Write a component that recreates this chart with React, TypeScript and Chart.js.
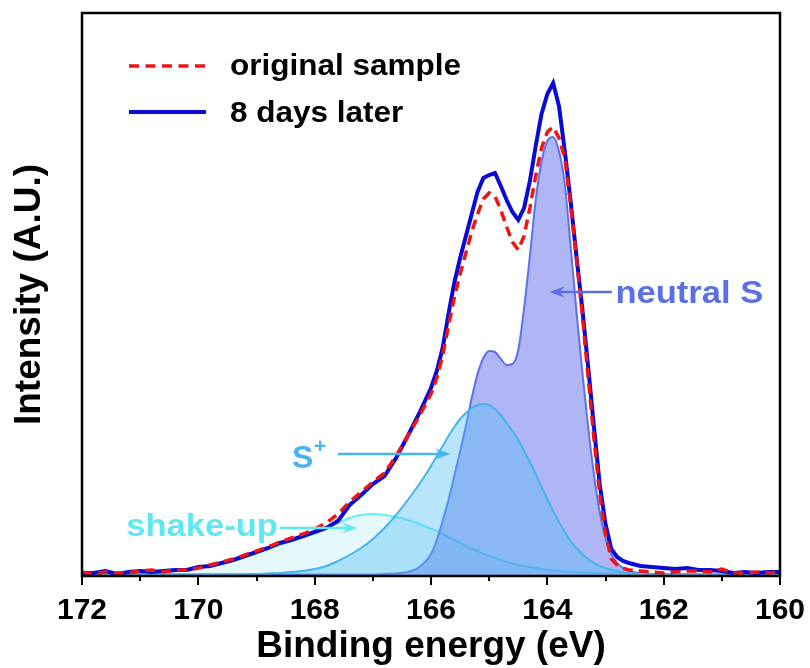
import React, { useEffect, useRef } from 'react';
import { Chart, registerables } from 'chart.js';

Chart.register(...registerables);

// ---------- data ----------
const energy = [
  172.0, 171.8, 171.6, 171.4, 171.2, 171.0, 170.8, 170.6, 170.4, 170.2,
  170.0, 169.8, 169.6, 169.4, 169.2, 169.0, 168.8, 168.6, 168.4, 168.2,
  168.0, 167.8, 167.6, 167.4, 167.2, 167.0, 166.8, 166.6, 166.4, 166.2,
  166.0, 165.9, 165.8, 165.7, 165.6, 165.5, 165.4, 165.3, 165.2, 165.1,
  165.0, 164.9, 164.8, 164.7, 164.6, 164.5, 164.4, 164.3, 164.2, 164.1,
  164.0, 163.9, 163.8, 163.7, 163.6, 163.5, 163.4, 163.3, 163.2, 163.1,
  163.0, 162.9, 162.8, 162.7, 162.6,
  162.4, 162.2, 162.0, 161.8, 161.6, 161.4, 161.2, 161.0, 160.8, 160.6, 160.4, 160.2, 160.0,
];

const eightDaysLater = [
  3, 3, 5, 2, 4, 5, 4, 5, 6, 6,
  9, 10, 13, 16, 20, 24, 28, 33, 36, 40,
  44, 48, 55, 71, 81, 92, 100, 118, 140, 163,
  188, 205, 228, 262, 293, 318, 340, 362, 384, 398,
  401, 403, 390, 376, 364, 356, 368, 395, 430, 462,
  482, 493, 470, 425, 375, 320, 268, 210, 150, 92,
  52, 27, 19, 15, 13,
  10, 9, 8, 7, 8, 6, 6, 5, 3, 4, 3, 4, 4,
];

const originalSample = [
  4, 2, 4, 3, 3, 5, 6, 4, 6, 6,
  8, 11, 14, 17, 21, 25, 29, 34, 38, 42,
  47, 53, 62, 74, 84, 94, 103, 120, 140, 160,
  182, 198, 220, 250, 278, 302, 323, 344, 362, 377,
  383, 380, 366, 349, 334, 326, 340, 368, 400, 428,
  444, 449, 438, 418, 372, 318, 262, 200, 138, 82,
  42, 17, 11, 8, 6,
  5, 4, 3, 4, 5, 5, 4, 7, 3, 3, 4, 3, 4,
];

const neutralS = [
  1.5, 1.5, 1.5, 1.5, 1.5, 1.5, 1.5, 1.5, 1.5, 1.5,
  1.5, 1.5, 1.5, 1.5, 1.5, 1.5, 1.5, 1.5, 1.5, 1.5,
  1.5, 1.5, 1.5, 1.5, 1.5, 1.5, 2, 2.5, 4, 9,
  22, 36, 55, 76, 100, 124, 150, 178, 202, 218,
  225, 224, 217, 211, 212, 226, 268, 320, 376, 414,
  435, 439, 425, 392, 330, 265, 205, 150, 102, 64,
  38, 22, 13, 8, 5,
  3, 2, 1.5, 1.5, 1.5, 1.5, 1.5, 1.5, 1.5, 1.5, 1.5, 1.5, 1.5,
];

const sPlus = [
  1.5, 1.5, 1.5, 1.5, 1.5, 1.5, 1.5, 1.5, 1.5, 1.5,
  1.5, 1.5, 1.5, 1.5, 1.8, 2, 2.5, 3, 4, 5,
  7, 10, 15, 21, 28, 37, 48, 61, 76, 92,
  110, 120, 130, 140, 149, 157, 163, 168, 171, 172,
  171, 167, 161, 153, 145, 136, 125, 114, 102, 89,
  77, 65, 54, 44, 35, 28, 22, 17, 13, 10,
  8, 6, 5, 4, 3,
  2.5, 2, 1.8, 1.5, 1.5, 1.5, 1.5, 1.5, 1.5, 1.5, 1.5, 1.5, 1.5,
];

const shakeUp = [
  2, 2, 3, 2, 3, 4, 4, 4, 5, 6,
  8, 10, 12, 15, 19, 23, 27, 31, 35, 39,
  43, 48, 53, 58, 61, 62, 61, 59, 56, 52,
  47, 45, 42, 39, 36, 33, 30, 27, 25, 22,
  20, 18, 16, 14, 12.5, 11, 10, 9, 8, 7,
  6, 5.5, 5, 4.5, 4, 3.8, 3.5, 3.2, 3, 2.8,
  2.6, 2.5, 2.4, 2.3, 2.2,
  2.1, 2, 2, 2, 2, 2, 2, 2, 2, 2, 2, 2, 2,
];

const majorTicks = [172, 170, 168, 166, 164, 162, 160];
const minorTicks = [171, 169, 167, 165, 163, 161];

const seriesLabels = ['original sample', '8 days later'];

const FONT = "'Liberation Sans', Arial, Helvetica, sans-serif";

const toPoints = (ys: number[]) => ys.map((y, i) => ({ x: energy[i], y }));

function drawArrow(ctx: CanvasRenderingContext2D, x1: number, x2: number, y: number, color: string) {
  const dir = x2 > x1 ? 1 : -1;
  const headLen = 15;
  ctx.strokeStyle = color;
  ctx.fillStyle = color;
  ctx.lineWidth = 2.5;
  ctx.beginPath();
  ctx.moveTo(x1, y);
  ctx.lineTo(x2 - dir * headLen * 0.6, y);
  ctx.stroke();
  ctx.beginPath();
  ctx.moveTo(x2, y);
  ctx.lineTo(x2 - dir * headLen, y - 5.5);
  ctx.lineTo(x2 - dir * headLen * 0.65, y);
  ctx.lineTo(x2 - dir * headLen, y + 5.5);
  ctx.closePath();
  ctx.fill();
}

function stretchedText(ctx: CanvasRenderingContext2D, text: string, x: number, y: number, sx: number) {
  ctx.save();
  ctx.translate(x, y);
  ctx.scale(sx, 1);
  ctx.fillText(text, 0, 0);
  ctx.restore();
}

const decorPlugin = {
  id: 'decor',
  afterDraw(chart: any) {
    const { ctx, chartArea: a, scales } = chart;
    const xs = scales.x;
    const ys = scales.y;
    ctx.save();
    // ticks
    ctx.strokeStyle = '#000';
    ctx.lineWidth = 2;
    majorTicks.forEach((v) => {
      const px = Math.round(xs.getPixelForValue(v));
      ctx.beginPath();
      ctx.moveTo(px, a.bottom);
      ctx.lineTo(px, a.bottom + 9);
      ctx.stroke();
    });
    minorTicks.forEach((v) => {
      const px = Math.round(xs.getPixelForValue(v));
      ctx.beginPath();
      ctx.moveTo(px, a.bottom);
      ctx.lineTo(px, a.bottom + 5);
      ctx.stroke();
    });
    // frame
    ctx.lineWidth = 2.5;
    ctx.strokeRect(a.left, a.top, a.right - a.left, a.bottom - a.top);

    // legend
    const lx1 = a.left + 47;
    const lx2 = a.left + 124;
    const ly1 = a.top + 53;
    const ly2 = a.top + 99;
    ctx.lineWidth = 3.5;
    ctx.strokeStyle = '#f01414';
    ctx.setLineDash([10, 6.5]);
    ctx.beginPath();
    ctx.moveTo(lx1, ly1);
    ctx.lineTo(lx2, ly1);
    ctx.stroke();
    ctx.setLineDash([]);
    ctx.strokeStyle = '#0a0ad6';
    ctx.lineWidth = 4;
    ctx.beginPath();
    ctx.moveTo(lx1, ly2);
    ctx.lineTo(lx2, ly2);
    ctx.stroke();
    ctx.fillStyle = '#000';
    ctx.font = `bold 30px ${FONT}`;
    ctx.textBaseline = 'alphabetic';
    ctx.textAlign = 'left';
    stretchedText(ctx, seriesLabels[0], a.left + 148, ly1 + 9, 1.05);
    stretchedText(ctx, seriesLabels[1], a.left + 148, ly2 + 10, 1.05);

    // annotations (anchored in data coordinates)
    const px = (e: number) => xs.getPixelForValue(e);
    const py = (v: number) => ys.getPixelForValue(v);

    // neutral S
    const cN = '#5a70e4';
    drawArrow(ctx, px(162.89), px(163.96), py(284), cN);
    ctx.fillStyle = cN;
    ctx.font = `bold 32px ${FONT}`;
    stretchedText(ctx, 'neutral S', px(162.83), py(284) + 11, 1.08);

    // S+
    const cS = '#47b3ef';
    drawArrow(ctx, px(167.6), px(165.67), py(122), cS);
    ctx.fillStyle = cS;
    ctx.font = `bold 32px ${FONT}`;
    ctx.fillText('S', px(168.39), py(122) + 14);
    ctx.font = `bold 21px ${FONT}`;
    ctx.fillText('+', px(168.39) + 22, py(122) - 1);

    // shake-up
    const cU = '#5fe8f2';
    drawArrow(ctx, px(168.6), px(167.27), py(48), cU);
    ctx.fillStyle = cU;
    ctx.font = `bold 32px ${FONT}`;
    stretchedText(ctx, 'shake-up', px(171.24), py(48) + 8, 1.08);

    ctx.restore();
  },
};

export default function App() {
  const ref = useRef<HTMLCanvasElement | null>(null);

  useEffect(() => {
    if (!ref.current) return;
    const chart = new Chart(ref.current, {
      type: 'line',
      data: {
        datasets: [
          {
            label: seriesLabels[0],
            data: toPoints(originalSample),
            borderColor: '#f01414',
            borderWidth: 3.5,
            borderDash: [10, 6],
            pointRadius: 0,
            fill: false,
            tension: 0,
          },
          {
            label: seriesLabels[1],
            data: toPoints(eightDaysLater),
            borderColor: '#0a0ad6',
            borderWidth: 4,
            pointRadius: 0,
            fill: false,
            tension: 0,
          },
          {
            label: 'S+',
            data: toPoints(sPlus),
            borderColor: '#45b4ee',
            borderWidth: 2,
            backgroundColor: 'rgba(80,190,245,0.40)',
            pointRadius: 0,
            fill: 'origin',
            cubicInterpolationMode: 'monotone',
          },
          {
            label: 'neutral S',
            data: toPoints(neutralS),
            borderColor: '#5b73e6',
            borderWidth: 2,
            backgroundColor: 'rgba(90,100,235,0.48)',
            pointRadius: 0,
            fill: 'origin',
            cubicInterpolationMode: 'monotone',
          },
          {
            label: 'shake-up',
            data: toPoints(shakeUp),
            borderColor: '#5ff0f6',
            borderWidth: 2,
            backgroundColor: 'rgba(150,232,245,0.25)',
            pointRadius: 0,
            fill: 'origin',
            cubicInterpolationMode: 'monotone',
          },
        ],
      },
      options: {
        responsive: false,
        animation: false,
        devicePixelRatio: 1,
        layout: { padding: { top: 13, right: 30, left: 0, bottom: 0 } },
        plugins: {
          legend: { display: false },
          tooltip: { enabled: false },
        },
        scales: {
          x: {
            type: 'linear',
            reverse: true,
            min: 160,
            max: 172,
            afterFit: (s: any) => {
              s.height = 92;
              s.paddingLeft = 0;
              s.paddingRight = 0;
            },
            afterBuildTicks: (s: any) => {
              s.ticks = majorTicks.map((v) => ({ value: v }));
            },
            ticks: {
              color: '#000',
              font: { family: FONT, size: 30, weight: 'bold' },
              padding: 17,
              maxRotation: 0,
              autoSkip: false,
            },
            grid: { display: false, drawTicks: false },
            border: { display: false },
            title: {
              display: true,
              text: 'Binding energy (eV)',
              color: '#000',
              font: { family: FONT, size: 37, weight: 'bold', lineHeight: 1.14 },
              padding: { top: 0, bottom: 0 },
            },
          },
          y: {
            type: 'linear',
            min: 0,
            max: 563,
            afterFit: (s: any) => {
              s.width = 82;
            },
            ticks: { display: false },
            grid: { display: false, drawTicks: false },
            border: { display: false },
            title: {
              display: true,
              text: 'Intensity (A.U.)',
              color: '#000',
              font: { family: FONT, size: 37, weight: 'bold' },
              padding: { top: 8, bottom: 0 },
            },
          },
        },
      },
      plugins: [decorPlugin],
    });
    return () => chart.destroy();
  }, []);

  return (
    <div style={{ position: 'absolute', left: 0, top: 0, width: 810, height: 668, background: '#fff' }}>
      <canvas ref={ref} width={810} height={668} />
    </div>
  );
}
